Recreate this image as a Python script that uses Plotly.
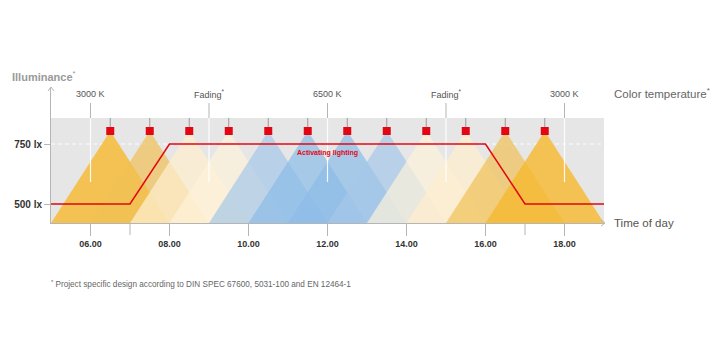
import plotly.graph_objects as go

# ---------------- data ----------------
lamp_times = [6.5, 7.5, 8.5, 9.5, 10.5, 11.5, 12.5, 13.5, 14.5, 15.5, 16.5, 17.5]
lamp_colors = [
    "rgba(245,185,50,0.82)", "rgba(240,193,85,0.70)", "rgba(253,238,205,0.75)",
    "rgba(253,242,218,0.70)", "rgba(165,200,232,0.70)", "rgba(140,188,232,0.70)",
    "rgba(140,188,232,0.70)", "rgba(165,200,232,0.70)", "rgba(253,242,218,0.70)",
    "rgba(253,238,205,0.75)", "rgba(240,193,85,0.70)", "rgba(245,185,50,0.82)",
]
lamp_halfwidth = 1.5

illum_times = [5, 7, 8, 16, 17, 19]
illum_values = [500, 500, 750, 750, 500, 500]

ct_times = [6, 9, 12, 15, 18]
ct_labels = ["3000 K", "Fading<sup>*</sup>", "6500 K", "Fading<sup>*</sup>", "3000 K"]

x_tickvals = [6, 8, 10, 12, 14, 16, 18]
x_ticktext = ["06.00", "08.00", "10.00", "12.00", "14.00", "16.00", "18.00"]
x_minor_ticks = [7, 17]
y_tickvals = [500, 750]
y_ticktext = ["500 lx", "750 lx"]

# ---------------- geometry helpers (reference pixels) ----------------
OFF = 8  # page body margin
W, H = 720 - OFF, 360 - OFF
L, R, T, B = 51, 604, 88, 223          # plot area in reference pixels
XMIN, XMAX = 5, 19
LX_PER_PX = 250 / 60.0
Y0 = 500 - (B - 204) * LX_PER_PX
Y1 = 750 + (144 - T) * LX_PER_PX

def ly(pix):
    return 750 + (144 - pix) * LX_PER_PX

def px(xpix):
    return (xpix - L) / (R - L)

def py(ypix):
    return (B - ypix) / (B - T)

BOX_TOP = ly(118)
LAMP_Y = ly(131)
FONT = "Liberation Sans, Arial, sans-serif"
AXIS_C = "#b5b5b5"

fig = go.Figure()

shapes = [
    dict(type="rect", xref="x", yref="y", x0=XMIN, x1=XMAX, y0=Y0, y1=BOX_TOP,
         fillcolor="#E6E6E6", line=dict(width=0), layer="below"),
    dict(type="line", xref="x", yref="y", x0=XMIN, x1=XMAX, y0=750, y1=750,
         line=dict(color="rgba(255,255,255,0.9)", width=1, dash="4px,3px"), layer="below"),
]
for t in lamp_times:
    shapes.append(dict(type="line", xref="x", yref="y", x0=t, x1=t, y0=BOX_TOP, y1=LAMP_Y,
                       line=dict(color="#9a9a9a", width=1), layer="below"))
for t in ct_times:
    shapes.append(dict(type="line", xref="x", yref="y", x0=t, x1=t, y0=ly(103), y1=BOX_TOP,
                       line=dict(color=AXIS_C, width=1), layer="below"))
for t in x_minor_ticks:
    shapes.append(dict(type="line", xref="x", yref="paper", x0=t, x1=t, y0=0, y1=py(235),
                       line=dict(color=AXIS_C, width=1), layer="above"))
# axis arrow heads (chevrons)
shapes.append(dict(type="path", xref="paper", yref="paper",
                   path=f"M {px(601)},{py(220)} L {px(605)},{py(223)} L {px(601)},{py(226)}",
                   line=dict(color=AXIS_C, width=1), layer="above"))
shapes.append(dict(type="path", xref="paper", yref="paper",
                   path=f"M {px(48)},{py(91)} L {px(51)},{py(87)} L {px(54)},{py(91)}",
                   line=dict(color=AXIS_C, width=1), layer="above"))

for t, c in zip(lamp_times, lamp_colors):
    fig.add_trace(go.Scatter(
        x=[t - lamp_halfwidth, t, t + lamp_halfwidth, t - lamp_halfwidth],
        y=[Y0, LAMP_Y, Y0, Y0], mode="lines", fill="toself", fillcolor=c,
        line=dict(width=0), hoverinfo="skip", showlegend=False))

for t in ct_times:
    fig.add_trace(go.Scatter(x=[t, t], y=[BOX_TOP, ly(182)], mode="lines",
                             line=dict(color="rgba(255,255,255,0.9)", width=1.2),
                             hoverinfo="skip", showlegend=False))

fig.add_trace(go.Scatter(x=illum_times, y=illum_values, mode="lines",
                         line=dict(color="#E30613", width=1.5),
                         hoverinfo="skip", showlegend=False))

fig.add_trace(go.Scatter(x=lamp_times, y=[LAMP_Y] * len(lamp_times), mode="markers",
                         marker=dict(symbol="square", size=8, color="#E30613"),
                         hoverinfo="skip", showlegend=False, cliponaxis=False))

annotations = [
    dict(x=px(10), y=py(76), xref="paper", yref="paper", xanchor="left", yanchor="middle",
         text="<b>Illuminance</b><sup>*</sup>", showarrow=False,
         font=dict(family=FONT, size=11, color="#9a9a9a")),
    dict(x=px(612), y=py(93), xref="paper", yref="paper", xanchor="left", yanchor="middle",
         text="Color temperature<sup>*</sup>", showarrow=False,
         font=dict(family=FONT, size=11.5, color="#666666")),
    dict(x=px(612), y=py(223), xref="paper", yref="paper", xanchor="left", yanchor="middle",
         text="Time of day", showarrow=False,
         font=dict(family=FONT, size=11.5, color="#555555")),
    dict(x=12, y=ly(153), xref="x", yref="y", xanchor="center", yanchor="middle",
         text="<b>Activating lighting</b>", showarrow=False,
         font=dict(family=FONT, size=7, color="#E30613")),
    dict(x=px(49), y=py(284), xref="paper", yref="paper", xanchor="left", yanchor="middle",
         text="<sup>*</sup> Project specific design according to DIN SPEC 67600, 5031-100 and EN 12464-1",
         showarrow=False, font=dict(family=FONT, size=8.2, color="#666666")),
]
for t, lab in zip(ct_times, ct_labels):
    annotations.append(dict(x=t, y=ly(94), xref="x", yref="y", xanchor="center", yanchor="middle",
                            text=lab, showarrow=False,
                            font=dict(family=FONT, size=9, color="#555555")))

fig.update_layout(
    template="none",
    width=W, height=H,
    margin=dict(l=L - OFF, r=720 - R, t=T - OFF, b=360 - B, pad=0, autoexpand=False),
    paper_bgcolor="white", plot_bgcolor="white",
    shapes=shapes, annotations=annotations, showlegend=False,
    xaxis=dict(range=[XMIN, XMAX], showgrid=False, zeroline=False, showline=True,
               linecolor=AXIS_C, linewidth=1, ticks="outside", ticklen=12,
               tickcolor=AXIS_C, tickvals=x_tickvals, ticktext=x_ticktext,
               tickfont=dict(family=FONT, size=9, color="#333333", weight="bold"),
               fixedrange=True, automargin=False, layer="above traces"),
    yaxis=dict(range=[Y0, Y1], showgrid=False, zeroline=False, showline=True,
               linecolor=AXIS_C, linewidth=1, ticks="outside", ticklen=6,
               tickcolor=AXIS_C, tickvals=y_tickvals, ticktext=y_ticktext,
               tickfont=dict(family=FONT, size=10, color="#333333", weight="bold"),
               fixedrange=True, automargin=False, layer="above traces"),
)

fig.write_html("out.html")
